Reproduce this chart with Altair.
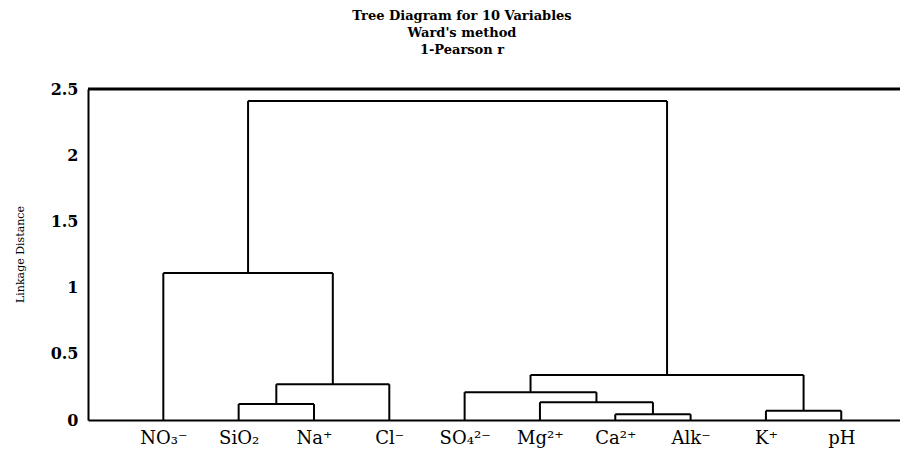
import json
import altair as alt
import pandas as pd

# ---- data ----
leaves = ["NO₃⁻", "SiO₂", "Na⁺", "Cl⁻", "SO₄²⁻", "Mg²⁺", "Ca²⁺", "Alk⁻", "K⁺", "pH"]
# merges: child a, child b, linkage height (clusters numbered from 10 upward)
merge_a = [1, 10, 0, 6, 5, 4, 8, 15, 12]
merge_b = [2, 3, 11, 7, 13, 14, 9, 16, 17]
merge_h = [0.12, 0.27, 1.11, 0.043, 0.134, 0.21, 0.07, 0.34, 2.41]

y_ticks = [0, 0.5, 1, 1.5, 2, 2.5]

# ---- build dendrogram segments ----
node_x = {i: i + 1 for i in range(len(leaves))}
node_h = {i: 0.0 for i in range(len(leaves))}
segs = []
for k, (a, b, h) in enumerate(zip(merge_a, merge_b, merge_h)):
    xa, xb = node_x[a], node_x[b]
    segs.append(dict(x=xa, x2=xa, y=node_h[a], y2=h))
    segs.append(dict(x=xb, x2=xb, y=node_h[b], y2=h))
    segs.append(dict(x=xa, x2=xb, y=h, y2=h))
    nid = len(leaves) + k
    node_x[nid] = (xa + xb) / 2
    node_h[nid] = h
df = pd.DataFrame(segs)

x_max = 10.78
label_expr = json.dumps(leaves) + "[datum.value - 1]"

x_enc = alt.X(
    "x:Q",
    scale=alt.Scale(domain=[0, x_max], nice=False, zero=False),
    axis=alt.Axis(
        values=list(range(1, 11)), labelExpr=label_expr, title=None,
        ticks=False, grid=False, domainWidth=2, domainColor="black",
        labelFont="DejaVu Serif", labelFontSize=18, labelColor="black",
        labelPadding=9, labelFontWeight="normal",
    ),
)
y_enc = alt.Y(
    "y:Q",
    scale=alt.Scale(domain=[0, 2.5], nice=False, zero=True),
    axis=alt.Axis(
        values=y_ticks, format="~g", title="Linkage Distance",
        ticks=False, grid=False, domainWidth=2, domainColor="black",
        labelFont="DejaVu Serif", labelFontSize=16, labelFontWeight="bold",
        labelColor="black", labelPadding=10,
        titleFont="DejaVu Serif", titleFontSize=11, titleFontWeight="normal",
        titleColor="black", titleX=-68, titleY=165, titleAngle=-90,
        titleAlign="center", titleBaseline="middle",
    ),
)

links = alt.Chart(df).mark_rule(color="black", strokeWidth=2).encode(
    x=x_enc, x2="x2:Q", y=y_enc, y2="y2:Q"
)

top_line = alt.Chart(pd.DataFrame({"t": [2.5]})).mark_rule(
    color="black", strokeWidth=3
).encode(y=alt.Y("t:Q"))

chart = (
    alt.layer(links, top_line)
    .properties(
        width=812,
        height=331,
        autosize=alt.AutoSizeParams(type="none"),
        padding={"left": 80, "top": 81, "right": 0, "bottom": 33},
        title=alt.TitleParams(
            text=["Tree Diagram for 10 Variables", "Ward's method", "1-Pearson r"],
            font="DejaVu Serif", fontSize=13, fontWeight="bold", color="black",
            lineHeight=17, anchor="middle", dx=-32, offset=24,
        ),
    )
    .configure_view(stroke=None)
)

chart.save("out.html", embed_options={"renderer": "svg", "actions": False})
